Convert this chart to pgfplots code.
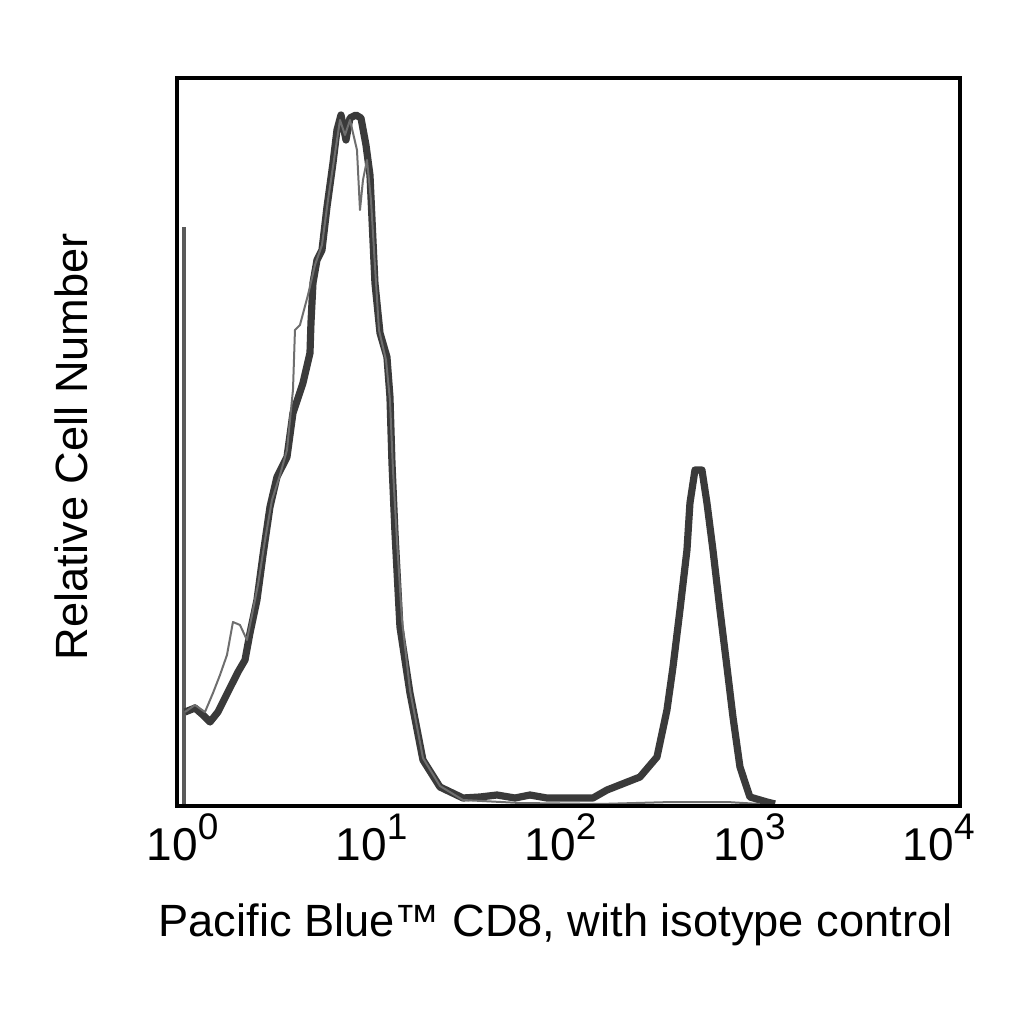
\documentclass[border=0pt]{standalone}
\usepackage{fontspec}
\setmainfont{Liberation Sans}
\usepackage{pgfplots}
\pgfplotsset{compat=1.18}

\definecolor{histdark}{RGB}{58,58,58}
\definecolor{isogray}{RGB}{110,110,110}
\definecolor{spikegray}{RGB}{90,90,90}

% 1 px of the reference = 0.5pt
\newcommand{\dec}[1]{10\raisebox{10pt}{\fontsize{18.5}{18.5}\selectfont #1}}

\begin{document}
\begin{tikzpicture}
\begin{axis}[
    scale only axis,
    width=391.5pt,
    height=364pt,
    xmode=log,
    xmin=0.9353, xmax=12935,
    ymin=0, ymax=728,
    xtick={1,10,100,1000,10000},
    xticklabels={\dec{0},\dec{1},\dec{2},\dec{3},\dec{4}},
    ytick=\empty,
    minor xtick={},
    major tick length=0pt,
    minor tick length=0pt,
    xticklabel style={anchor=base, yshift=-27pt, font=\fontsize{23}{24}\selectfont},
    axis line style={line width=2.2pt, black},
    axis on top,
    clip mode=individual,
    xlabel={Pacific Blue™ CD8, with isotype control},
    ylabel={Relative Cell Number},
    every axis x label/.style={at={(axis description cs:0.4834,-0.1795)}, anchor=base, font=\fontsize{22.6}{24}\selectfont},
    every axis y label/.style={at={(axis description cs:-0.1149,0.4938)}, rotate=90, anchor=base, font=\fontsize{22.6}{24}\selectfont},
]

% pile-up in the first channel
\addplot[spikegray, line width=2pt] coordinates {(1.018,0) (1.018,579)};

% CD8 stained sample
\addplot[histdark, line width=3.6pt, line join=round] coordinates {
(1.031,94) (1.164,98) (1.284,91) (1.398,84) (1.540,94) (1.740,114)
(1.966,134) (2.141,146) (2.275,173) (2.477,206) (2.666,251) (2.902,299)
(3.160,329) (3.570,349) (3.841,393) (4.337,423) (4.724,453) (4.781,483)
(4.899,523) (5.144,546) (5.467,556) (5.810,599) (6.251,643) (6.563,676)
(6.891,691) (7.322,666) (7.688,688) (8.271,691) (8.790,688) (9.341,661)
(9.807,631) (10.17,566) (10.42,523) (11.08,473) (12.06,449) (12.51,409)
(12.82,343) (13.30,273) (14.13,179) (15.96,113) (18.70,46) (23.00,19)
(30.43,8) (37.43,9) (46.05,11) (57.33,8) (68.81,11) (84.64,8)
(148.2,8) (175.8,16) (262.7,29) (323.1,49) (364.9,96) (392.7,139)
(427.4,196) (465.5,256) (482.8,303) (513.2,336) (558.7,336) (593.8,303)
(638.8,256) (695.7,196) (757.7,139) (815.1,89) (887.6,39) (1002,9)
(1233,4) (1359,2)
};

% isotype control
\addplot[isogray, line width=1pt, line join=round] coordinates {
(1.031,94) (1.164,101) (1.315,94) (1.450,113) (1.579,131) (1.719,151)
(1.849,184) (2.014,181) (2.193,166) (2.331,191) (2.507,221) (2.732,266)
(2.974,306) (3.279,331) (3.570,356) (3.841,416) (3.935,476) (4.182,481)
(4.610,511) (5.020,541) (5.467,561) (5.881,606) (6.327,646) (6.808,686)
(7.234,671) (7.688,686) (8.372,656) (8.683,596) (9.006,626) (9.455,646)
(9.927,606) (10.30,556) (10.94,476) (11.92,446) (12.51,406) (12.98,336)
(13.62,266) (14.48,186) (15.96,116) (18.70,48) (23.00,20) (30.43,6)
(60.92,3) (161.4,2) (387.9,4) (757.7,4) (1132,2)
};

\coordinate (bl) at (axis description cs:-0.22605,-0.29945);
\coordinate (tr) at (axis description cs:1.08174,1.10714);
\end{axis}
\path (bl) rectangle (tr);
\end{tikzpicture}
\end{document}
